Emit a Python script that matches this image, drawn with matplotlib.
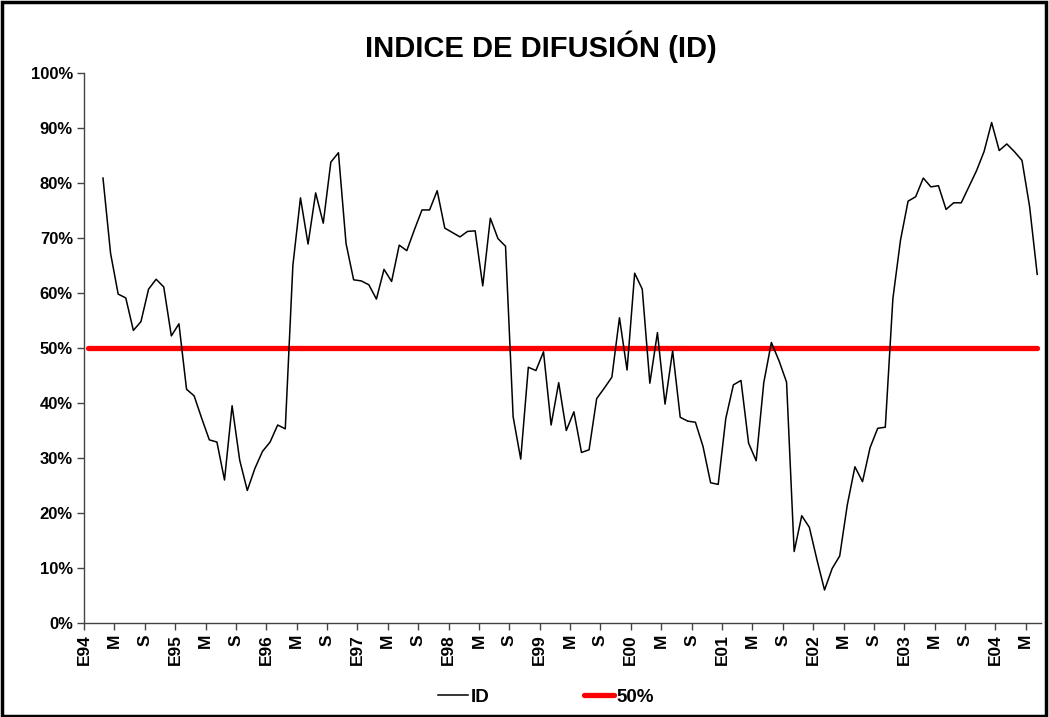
import matplotlib
matplotlib.use("Agg")
import matplotlib.pyplot as plt
from matplotlib.patches import Rectangle
from matplotlib.lines import Line2D

plt.rcParams['font.family'] = ['Liberation Sans', 'DejaVu Sans']

# Monthly Diffusion Index (%), March 1994 .. June 2004
id_start_month = 2  # months after January 1994
id_values = [
    80.9, 67.2, 59.8, 59.1, 53.2, 54.8, 60.7, 62.5, 61.1, 52.2,
    54.4, 42.5, 41.3, 37.2, 33.3, 32.9, 26.0, 39.5, 29.6, 24.1,
    28.1, 31.2, 32.9, 36.0, 35.3, 65.0, 77.3, 68.9, 78.2, 72.7,
    83.8, 85.5, 69.0, 62.4, 62.2, 61.5, 58.9, 64.3, 62.1, 68.7,
    67.7, 71.5, 75.1, 75.1, 78.6, 71.8, 71.0, 70.2, 71.2, 71.3,
    61.3, 73.6, 69.9, 68.5, 37.5, 29.8, 46.5, 45.9, 49.3, 36.0,
    43.7, 35.0, 38.4, 31.0, 31.5, 40.8, 42.7, 44.7, 55.5, 46.0,
    63.6, 60.7, 43.6, 52.8, 39.8, 49.5, 37.4, 36.7, 36.5, 32.1,
    25.5, 25.2, 37.2, 43.3, 44.1, 32.7, 29.5, 43.7, 51.0, 47.7,
    43.8, 13.0, 19.5, 17.4, 11.5, 6.0, 9.9, 12.2, 21.5, 28.4,
    25.7, 31.9, 35.4, 35.6, 59.0, 69.6, 76.7, 77.5, 80.9, 79.3,
    79.5, 75.2, 76.4, 76.4, 79.3, 82.2, 85.7, 91.0, 85.9, 87.1,
    85.7, 84.1, 75.7, 63.4,
]
n_months = 126  # January 1994 .. June 2004
threshold_values = [50] * n_months

tick_labels = []
for yr in range(94, 105):
    for m in ["E", "M", "S"]:
        tick_labels.append(f"E{yr % 100:02d}" if m == "E" else m)
tick_labels = tick_labels[:32]
y_ticks = list(range(0, 101, 10))
y_tick_labels = [f"{v}%" for v in y_ticks]

fig = plt.figure(figsize=(10.49, 7.17), dpi=100)
ax = fig.add_axes([84 / 1049, 1 - 623 / 717, (1041 - 84) / 1049, (623 - 73) / 717])

x_id = [id_start_month + i + 0.5 for i in range(len(id_values))]
x_th = [i + 0.5 for i in range(n_months)]

ax.plot(x_th, threshold_values, color='#ff0000', lw=3.8, solid_capstyle='round', zorder=2)
ax.plot(x_id, id_values, color='black', lw=1.1, zorder=3)

ax.set_xlim(0, n_months)
ax.set_ylim(0, 100)
ax.set_yticks(y_ticks)
ax.set_yticklabels(y_tick_labels, fontsize=12, fontweight='bold')
ax.set_xticks([4 * k for k in range(len(tick_labels))])
ax.set_xticklabels(tick_labels, rotation=90, fontsize=12.5, fontweight='bold', va='top')
ax.tick_params(axis='both', direction='out', length=5, width=1, color='#444444')
ax.tick_params(axis='y', pad=3)
ax.tick_params(axis='x', pad=3)

for s in ['top', 'right']:
    ax.spines[s].set_visible(False)
for s in ['left', 'bottom']:
    ax.spines[s].set_color('#444444')
    ax.spines[s].set_linewidth(1)

fig.text(541 / 1049, 1 - 47 / 717, "INDICE DE DIFUSIÓN (ID)", ha='center', va='center',
         fontsize=21, fontweight='bold')

handles = [Line2D([0], [0], color='black', lw=1.1),
           Line2D([0], [0], color='#ff0000', lw=3.8, solid_capstyle='round')]
fig.legend(handles, ['ID', '50%'], loc='center', bbox_to_anchor=(546 / 1049, 1 - 697 / 717),
           ncol=2, frameon=False, handlelength=1.6, handletextpad=0.15, columnspacing=5.0,
           prop={'weight': 'bold', 'size': 13.5})

fig.patches.append(Rectangle((0.0015, 0.002), 0.996, 0.995, transform=fig.transFigure,
                             fill=False, edgecolor='black', lw=2.5))

fig.savefig("out.png", dpi=100, facecolor='white')
